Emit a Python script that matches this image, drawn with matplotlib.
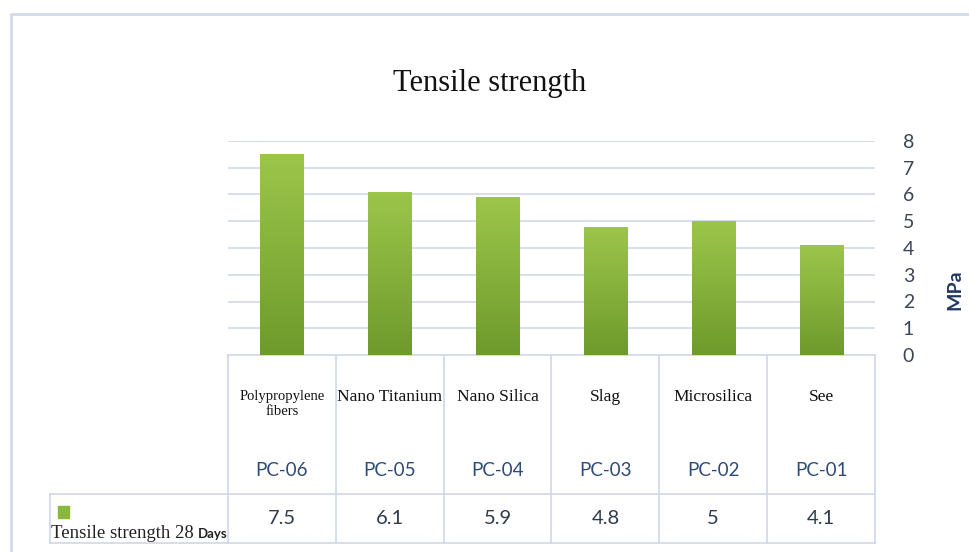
import matplotlib
matplotlib.use("Agg")
import matplotlib.pyplot as plt
import numpy as np

# datos del ensayo (de izquierda a derecha)
materiales = ["Polypropylene\nfibers", "Nano Titanium", "Nano Silica", "Slag", "Microsilica", "See"]
codigos = ["PC-06", "PC-05", "PC-04", "PC-03", "PC-02", "PC-01"]
resistencia = [7.5, 6.1, 5.9, 4.8, 5, 4.1]
etiquetas_valor = ["7.5", "6.1", "5.9", "4.8", "5", "4.1"]
marcas_y = [0, 1, 2, 3, 4, 5, 6, 7, 8]

W, H = 970, 552
fig = plt.figure(figsize=(W / 100, H / 100), dpi=100)
fig.patch.set_facecolor("white")

# capa de fondo en pixeles: marco, tabla y textos sueltos
fondo = fig.add_axes([0, 0, 1, 1])
fondo.set_xlim(0, W)
fondo.set_ylim(H, 0)
fondo.axis("off")

color_linea = "#cdd8e6"
fondo.plot([11, 11, W + 5], [H + 5, 14, 14], color="#d3dbe8", lw=2.0, solid_capstyle="butt")

# ejes de las barras
x0, x1, ytop, ybot = 228, 875, 141, 355
ax = fig.add_axes([x0 / W, 1 - ybot / H, (x1 - x0) / W, (ybot - ytop) / H])
pos = np.arange(len(resistencia))
barras = ax.bar(pos, resistencia, width=0.4, color="#86b03c", zorder=2)

# degradado verde en cada barra
grad = np.linspace(0, 1, 256).reshape(-1, 1)
cmap = matplotlib.colors.LinearSegmentedColormap.from_list("verde", ["#6e9a2c", "#9cc64a"])
for b in barras:
    im = ax.imshow(grad, extent=[b.get_x(), b.get_x() + b.get_width(), 0, b.get_height()],
                   origin="lower", cmap=cmap, aspect="auto", zorder=3)
    im.set_clip_path(b)
ax.set_xlim(-0.5, len(resistencia) - 0.5)
ax.set_ylim(0, 8)

ax.set_yticks(marcas_y)
ax.yaxis.tick_right()
ax.tick_params(axis="y", length=0, pad=20, labelsize=14, labelcolor="#3a4556")
for t in ax.get_yticklabels():
    t.set_fontfamily("Lato")
ax.set_xticks([])
ax.grid(axis="y", color="#d3dcea", lw=1.3, zorder=0)
for s in ax.spines.values():
    s.set_visible(False)

fondo.text(955, 290, "MPa", rotation=90, ha="center", va="center", fontsize=14,
           fontweight="bold", family="Lato", color="#1f3864")

fondo.text(490, 84, "Tensile strength", ha="center", va="center", fontsize=22,
           family="Liberation Serif", color="#111111")

# tabla de datos bajo el grafico
cols = np.linspace(x0, x1, len(resistencia) + 1)
y_tab, y_med, y_fin = 355, 494, 543
for c in cols:
    fondo.plot([c, c], [y_tab, y_fin], color=color_linea, lw=1.2)
fondo.plot([x0, x1], [y_tab, y_tab], color=color_linea, lw=1.2)
fondo.plot([50, x1], [y_med, y_med], color=color_linea, lw=1.2)
fondo.plot([50, x1], [y_fin, y_fin], color=color_linea, lw=1.2)
fondo.plot([50, 50], [y_med, y_fin], color=color_linea, lw=1.2)

centros = (cols[:-1] + cols[1:]) / 2
for i, cx in enumerate(centros):
    dos_lineas = "\n" in materiales[i]
    fondo.text(cx, 404 if dos_lineas else 397, materiales[i], ha="center", va="center",
               fontsize=10.5 if dos_lineas else 12.5, family="Liberation Serif",
               color="#111111", linespacing=1.15)
    fondo.text(cx, 470, codigos[i], ha="center", va="center", fontsize=13.5,
               family="Lato", color="#2d4a78")
    fondo.text(cx, 519, etiquetas_valor[i], ha="center", va="center", fontsize=14.5,
               family="Lato", color="#2f3b4d")

# leyenda de la serie
fondo.add_patch(plt.Rectangle((58, 506), 11, 12, color="#8ab83c"))
fondo.text(51, 538, "Tensile strength 28", ha="left", va="baseline", fontsize=13.5,
           family="Liberation Serif", color="#222222")
fondo.text(198, 538, "Days", ha="left", va="baseline", fontsize=9.5,
           family="Lato", fontweight="bold", color="#222222")

fig.savefig("out.png", dpi=100)
